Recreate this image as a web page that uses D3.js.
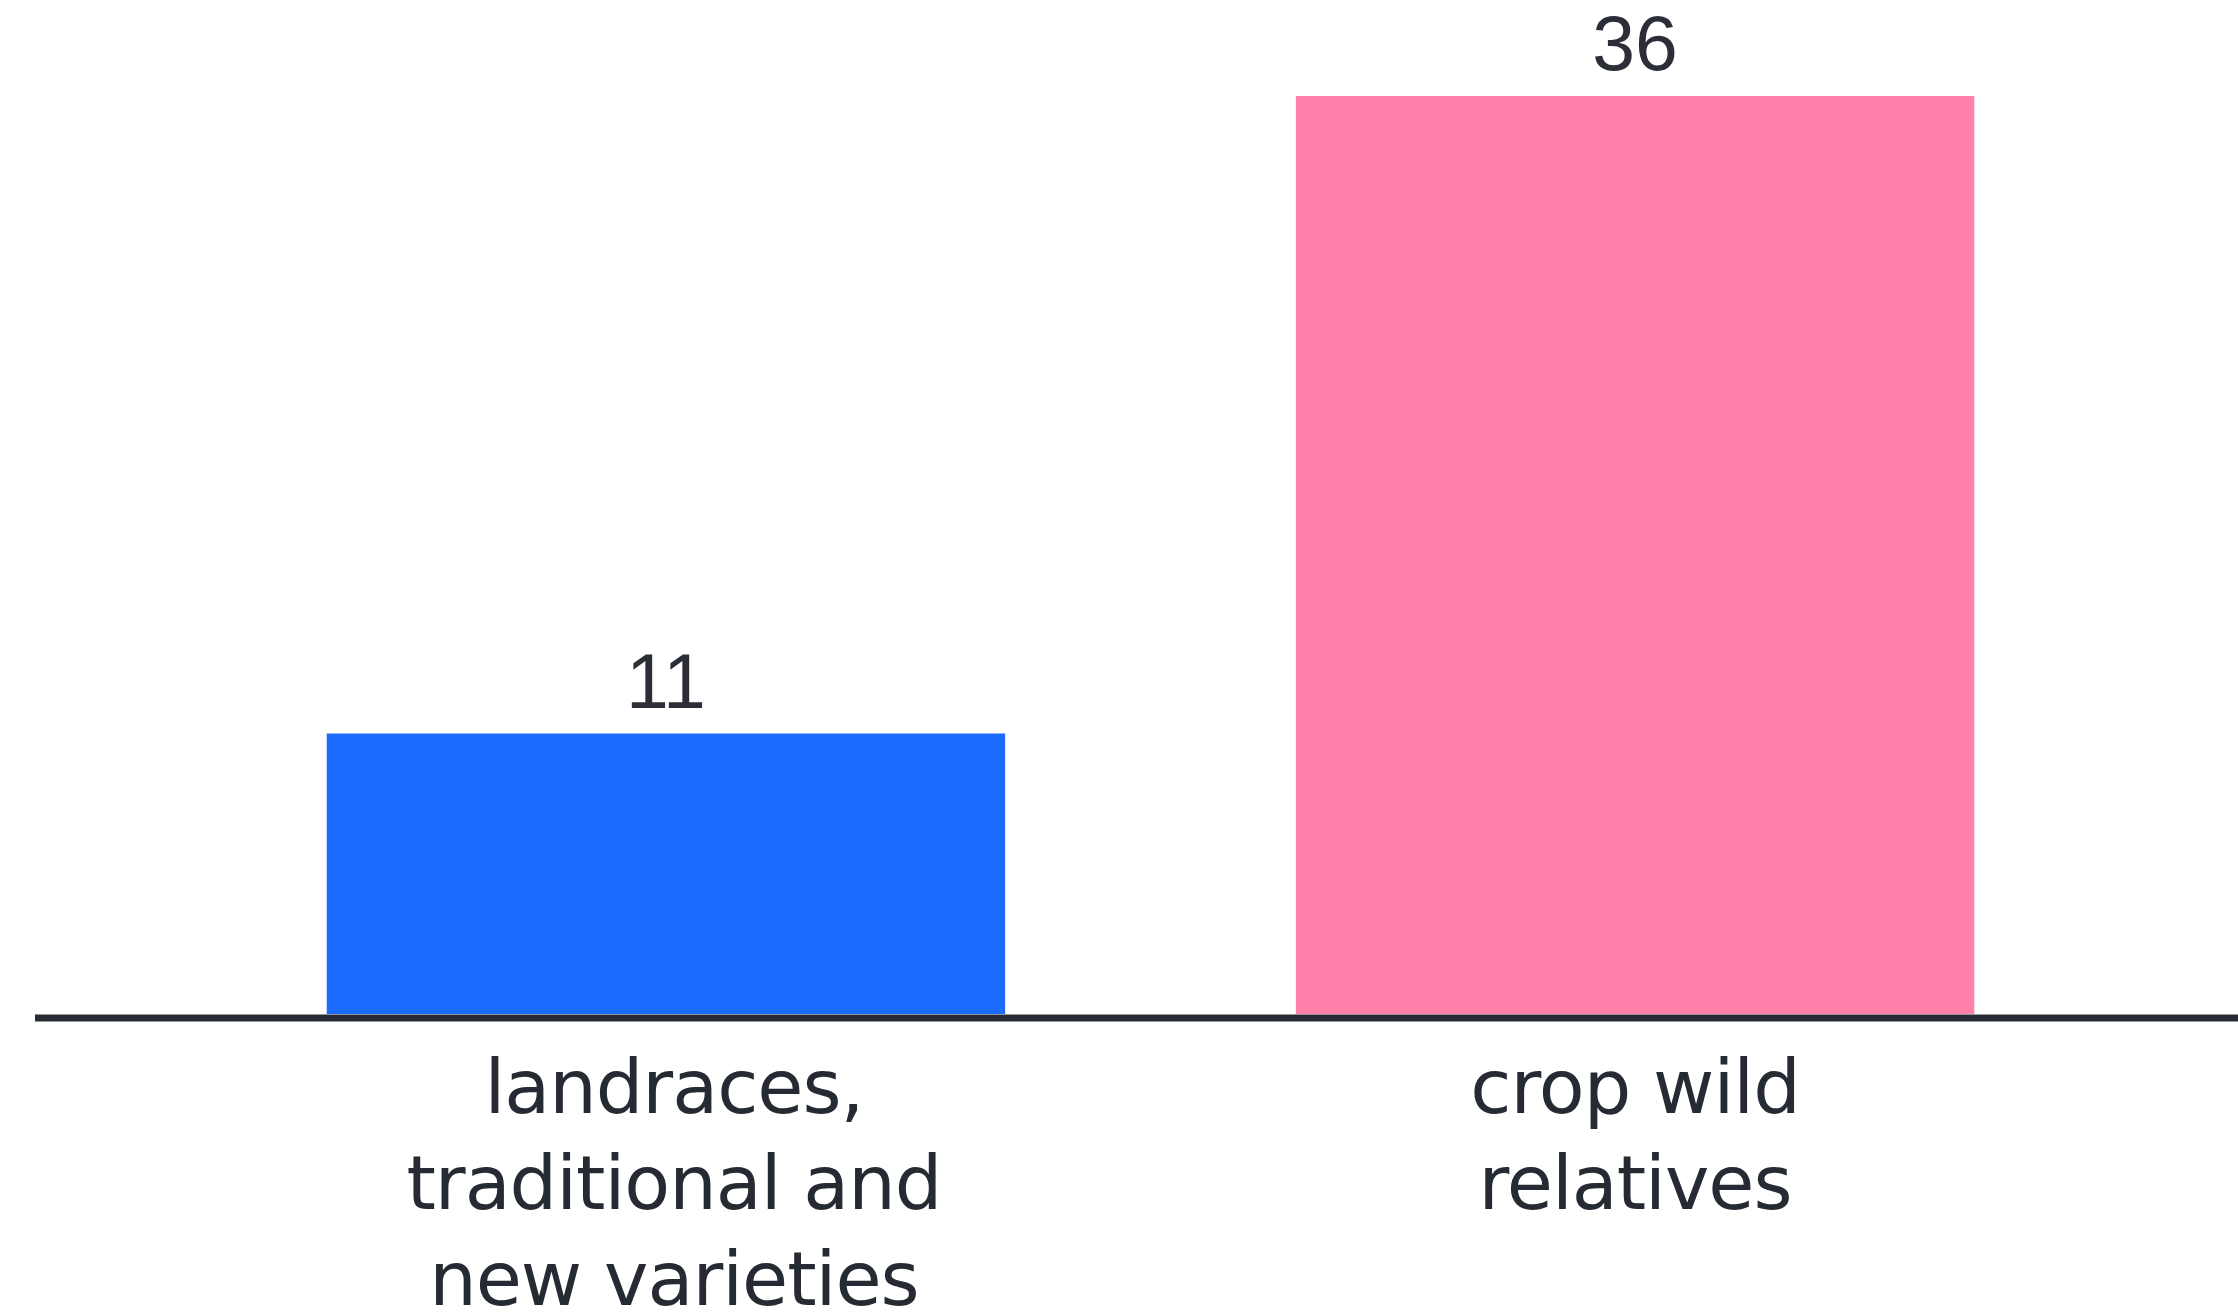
<!DOCTYPE html>
<html>
<head>
<meta charset="utf-8">
<script src="https://cdn.jsdelivr.net/npm/d3@7"></script>
<style>
  html, body { margin: 0; padding: 0; background: #ffffff; }
  svg { display: block; }
</style>
</head>
<body>
<svg id="chart" width="2238" height="1313"></svg>
<script>
const categories = ["landraces, traditional and new varieties", "crop wild relatives"];
const categoryLines = [["landraces,", "traditional and", "new varieties"], ["crop wild", "relatives"]];
const values = [11, 36];
const colors = ["#1b6bff", "#ff80a8"];

const svg = d3.select("#chart");
const baseY = 1014;

const x = d3.scaleBand()
  .domain(categories)
  .range([36, 2265])
  .paddingInner(0.3)
  .paddingOuter(0.3);

const y = d3.scaleLinear()
  .domain([0, 36])
  .range([baseY, 96]);

svg.selectAll("rect.bar")
  .data(values)
  .enter().append("rect")
  .attr("class", "bar")
  .attr("x", (d, i) => x(categories[i]))
  .attr("width", x.bandwidth())
  .attr("y", d => y(d))
  .attr("height", d => y(0) - y(d))
  .attr("fill", (d, i) => colors[i]);

svg.selectAll("text.val")
  .data(values)
  .enter().append("text")
  .attr("class", "val")
  .attr("x", (d, i) => x(categories[i]) + x.bandwidth() / 2)
  .attr("y", d => y(d) - 26)
  .attr("text-anchor", "middle")
  .attr("font-family", "'Liberation Sans', Arial, sans-serif")
  .attr("font-size", 77)
  .attr("fill", "#2b2e36")
  .text(d => d);

// baseline axis
const axis = d3.axisBottom(x).tickSize(0).tickFormat("");
const ag = svg.append("g").attr("transform", `translate(0,${baseY + 4})`).call(axis);
ag.select(".domain").attr("stroke", "#262a33").attr("stroke-width", 7).attr("d", "M35,0H2238");

// category labels
const lab = svg.selectAll("text.cat")
  .data(categories)
  .enter().append("text")
  .attr("class", "cat")
  .attr("text-anchor", "middle")
  .attr("font-family", "'DejaVu Sans', sans-serif")
  .attr("font-size", 75)
  .attr("fill", "#262a33")
  .attr("letter-spacing", -1);

lab.each(function(d, i) {
  const t = d3.select(this);
  categoryLines[i].forEach((ln, j) => {
    t.append("tspan")
      .attr("x", x(d) + x.bandwidth() / 2 + (i === 0 ? 8 : 0))
      .attr("y", 1113 + j * 96)
      .text(ln);
  });
});
</script>
</body>
</html>
